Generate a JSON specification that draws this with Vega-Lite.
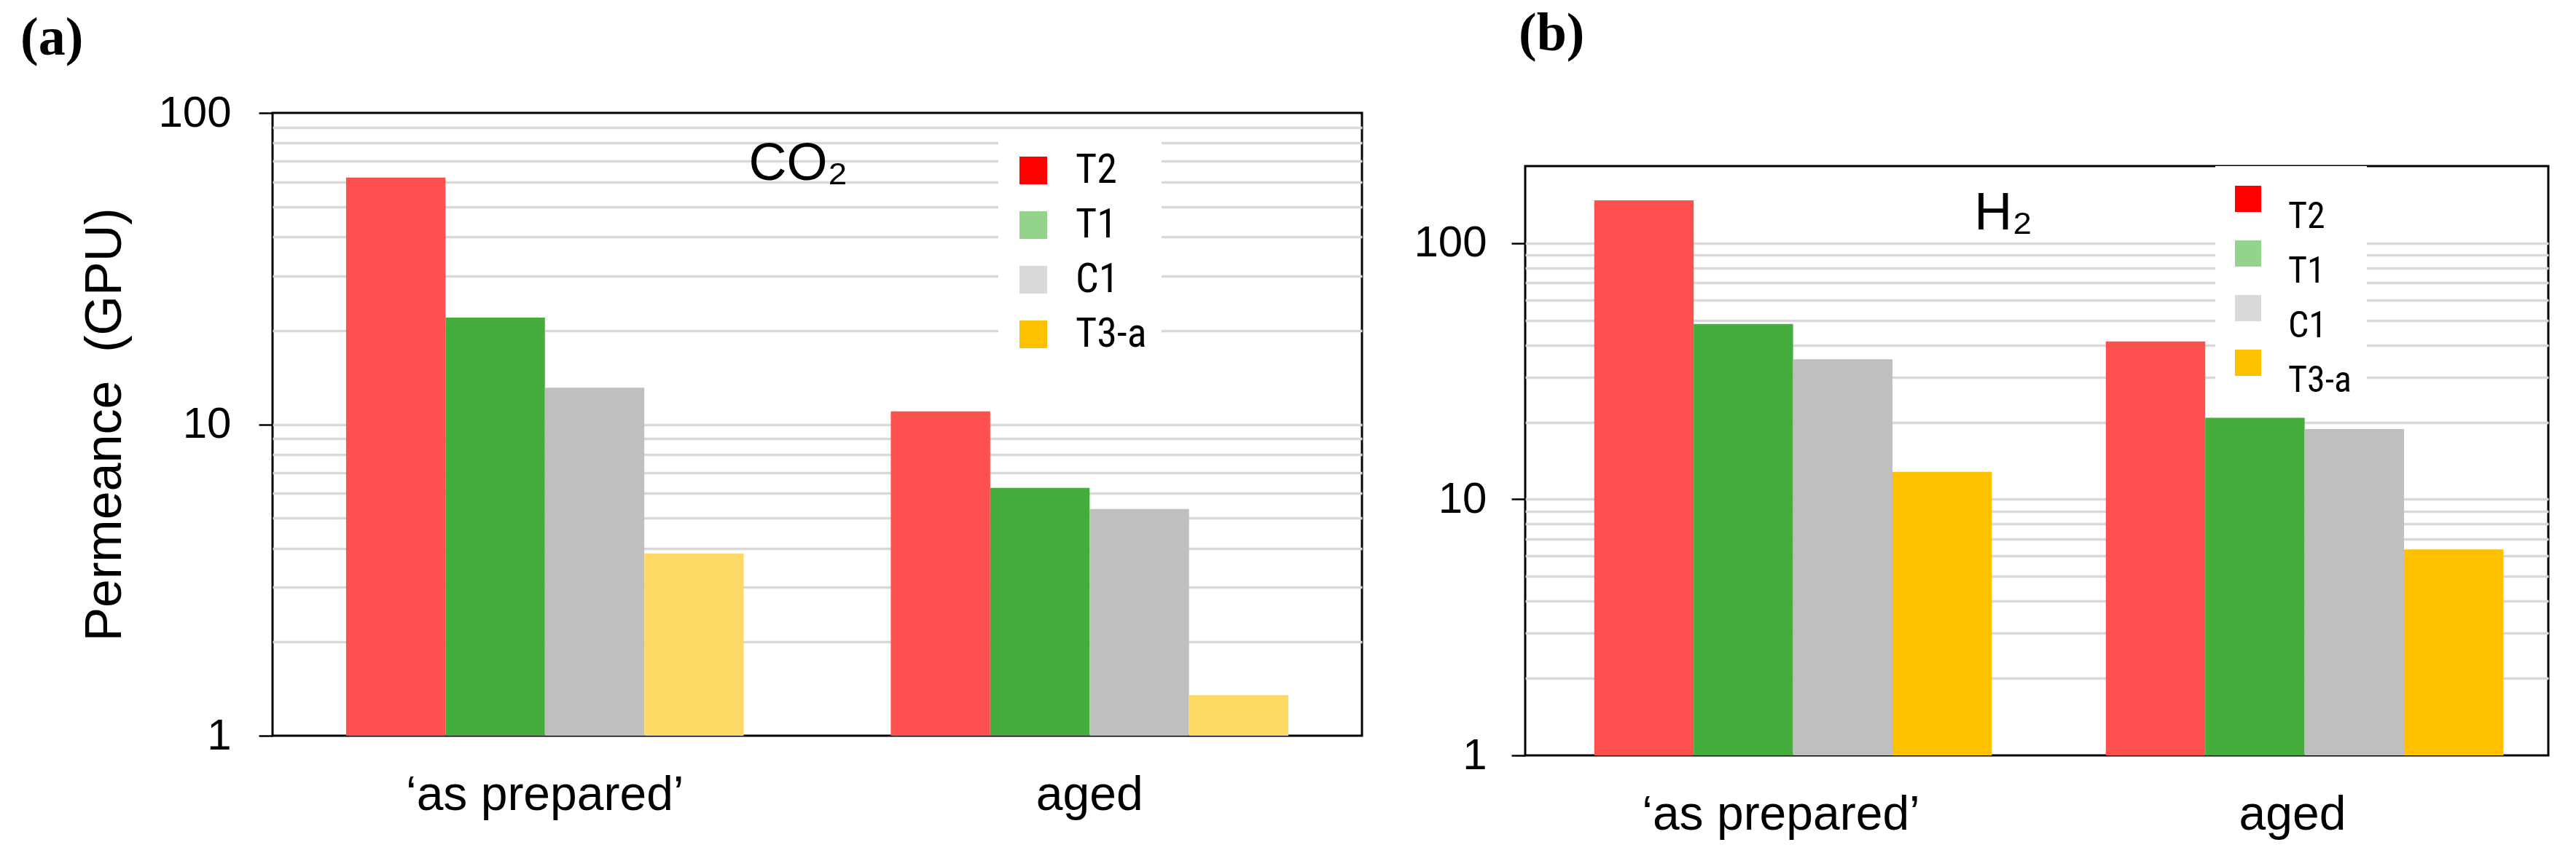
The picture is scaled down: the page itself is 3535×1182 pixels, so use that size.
{
  "$schema": "https://vega.github.io/schema/vega-lite/v6.json",
  "background": "white",
  "padding": {"left": 26, "top": 10, "right": 5, "bottom": 5},
  "spacing": 67,
  "datasets": {
    "co2": [
      {"condition": "‘as prepared’", "sample": "T2", "value": 62},
      {"condition": "‘as prepared’", "sample": "T1", "value": 22},
      {"condition": "‘as prepared’", "sample": "C1", "value": 13.1},
      {"condition": "‘as prepared’", "sample": "T3-a", "value": 3.85},
      {"condition": "aged", "sample": "T2", "value": 11},
      {"condition": "aged", "sample": "T1", "value": 6.25},
      {"condition": "aged", "sample": "C1", "value": 5.35},
      {"condition": "aged", "sample": "T3-a", "value": 1.35}
    ],
    "h2": [
      {"condition": "‘as prepared’", "sample": "T2", "value": 147},
      {"condition": "‘as prepared’", "sample": "T1", "value": 48.4},
      {"condition": "‘as prepared’", "sample": "C1", "value": 35.2},
      {"condition": "‘as prepared’", "sample": "T3-a", "value": 12.8},
      {"condition": "aged", "sample": "T2", "value": 41.3},
      {"condition": "aged", "sample": "T1", "value": 20.8},
      {"condition": "aged", "sample": "C1", "value": 18.8},
      {"condition": "aged", "sample": "T3-a", "value": 6.37}
    ]
  },
  "config": {
    "view": {"stroke": "black", "strokeWidth": 3},
    "font": "Liberation Sans",
    "axis": {
      "labelFont": "Liberation Sans",
      "titleFont": "Liberation Sans",
      "labelColor": "black",
      "titleColor": "black",
      "titleFontWeight": "normal"
    },
    "title": {
      "font": "Liberation Serif",
      "fontWeight": "bold",
      "fontSize": 74,
      "color": "black",
      "anchor": "start",
      "frame": "group"
    }
  },
  "resolve": {
    "scale": {"x": "independent", "y": "independent", "fill": "independent", "color": "independent"},
    "legend": {"color": "independent"}
  },
  "hconcat": [
    {
      "width": 1495,
      "height": 855,
      "title": {"text": "(a)", "dx": -346, "offset": 34},
      "layer": [
        {
          "data": {"name": "co2"},
          "mark": {"type": "bar"},
          "encoding": {
            "x": {
              "field": "condition", "type": "nominal", "sort": ["‘as prepared’", "aged"],
              "scale": {"paddingInner": 0.27, "paddingOuter": 0.135},
              "axis": {"title": null, "labelAngle": 0, "ticks": false, "domain": false, "labelFontSize": 66, "labelPadding": 49, "labelLimit": 0}
            },
            "xOffset": {"field": "sample", "type": "nominal", "sort": ["T2", "T1", "C1", "T3-a"], "scale": {"paddingInner": 0, "paddingOuter": 0}},
            "y": {
              "field": "value", "type": "quantitative",
              "scale": {"type": "log", "domain": [1, 100], "nice": false},
              "axis": {
                "title": "Permeance\u00a0 (GPU)", "titleFontSize": 70, "titlePadding": 36,
                "values": [1, 2, 3, 4, 5, 6, 7, 8, 9, 10, 20, 30, 40, 50, 60, 70, 80, 90, 100],
                "labelExpr": "datum.value == 1 || datum.value == 10 || datum.value == 100 ? format(datum.value, 'd') : ''",
                "labelFontSize": 60, "labelPadding": 38, "labelOverlap": false, "labelFlush": false,
                "domain": false,
                "tickSize": 19, "tickWidth": 2.5,
                "tickColor": {"condition": {"test": "datum.value == 1 || datum.value == 10 || datum.value == 100", "value": "black"}, "value": "transparent"},
                "grid": true, "gridWidth": 3.5,
                "gridColor": {"condition": {"test": "datum.value == 1 || datum.value == 100", "value": "transparent"}, "value": "#D9D9D9"}
              }
            },
            "y2": {"datum": 1},
            "fill": {
              "field": "sample", "type": "nominal", "sort": ["T2", "T1", "C1", "T3-a"],
              "scale": {"range": ["#FF5050", "#45AD3B", "#BFBFBF", "#FFD966"]},
              "legend": null
            }
          }
        },
        {
          "data": {"name": "co2"},
          "mark": {"type": "square", "filled": true, "opacity": 0},
          "encoding": {
            "x": {"field": "condition", "type": "nominal", "sort": ["‘as prepared’", "aged"]},
            "xOffset": {"field": "sample", "type": "nominal", "sort": ["T2", "T1", "C1", "T3-a"]},
            "y": {"field": "value", "type": "quantitative"},
            "color": {
              "field": "sample", "type": "nominal",
              "scale": {"domain": ["T2", "T1", "C1", "T3-a"], "range": ["#FF0000", "#94D38C", "#D9D9D9", "#FFC000"]},
              "legend": {
                "orient": "none", "legendX": 996, "legendY": 31, "title": null,
                "symbolType": "square", "symbolSize": 1444, "symbolStrokeWidth": 0, "symbolOpacity": 1,
                "labelFont": "Liberation Sans Narrow, Roboto Condensed, Liberation Sans",
                "labelColor": "black", "fillColor": "white", "padding": 20,
                "labelFontSize": 56, "labelOffset": 30, "rowPadding": 19, "labelLimit": 400,
                "labelExpr": "datum.label + '\u2003\u2003\u2002'"
              }
            }
          }
        },
        {
          "data": {"values": [{"label": "CO₂"}]},
          "mark": {"type": "text", "align": "left", "baseline": "alphabetic", "fontSize": 72, "font": "Liberation Sans", "color": "black", "dx": 7},
          "encoding": {
            "x": {"datum": "‘as prepared’", "bandPosition": 1},
            "y": {"datum": 61},
            "text": {"field": "label"}
          }
        }
      ]
    },
    {
      "title": {"text": "(b)", "dx": -9, "offset": 70},
      "spacing": 0,
      "vconcat": [
        {
          "width": 1404,
          "height": 71,
          "view": {"stroke": null},
          "data": {"values": []},
          "mark": {"type": "text"},
          "encoding": {}
        },
        {
          "width": 1404,
          "height": 809,
          "layer": [
            {
              "data": {"name": "h2"},
              "mark": {"type": "bar"},
              "encoding": {
                "x": {
                  "field": "condition", "type": "nominal", "sort": ["‘as prepared’", "aged"],
                  "scale": {"paddingInner": 0.27, "paddingOuter": 0.135},
                  "axis": {"title": null, "labelAngle": 0, "ticks": false, "domain": false, "labelFontSize": 66, "labelPadding": 49, "labelLimit": 0}
                },
                "xOffset": {"field": "sample", "type": "nominal", "sort": ["T2", "T1", "C1", "T3-a"], "scale": {"paddingInner": 0, "paddingOuter": 0}},
                "y": {
                  "field": "value", "type": "quantitative",
                  "scale": {"type": "log", "domain": [1, 200], "nice": false},
                  "axis": {
                    "title": null,
                    "values": [1, 2, 3, 4, 5, 6, 7, 8, 9, 10, 20, 30, 40, 50, 60, 70, 80, 90, 100],
                    "labelExpr": "datum.value == 1 || datum.value == 10 || datum.value == 100 ? format(datum.value, 'd') : ''",
                    "labelFontSize": 60, "labelPadding": 34, "labelOverlap": false, "labelFlush": false,
                    "domain": false,
                    "tickSize": 19, "tickWidth": 2.5,
                    "tickColor": {"condition": {"test": "datum.value == 1 || datum.value == 10 || datum.value == 100", "value": "black"}, "value": "transparent"},
                    "grid": true, "gridWidth": 3.5,
                    "gridColor": {"condition": {"test": "datum.value == 1", "value": "transparent"}, "value": "#D9D9D9"}
                  }
                },
                "y2": {"datum": 1},
                "fill": {
                  "field": "sample", "type": "nominal", "sort": ["T2", "T1", "C1", "T3-a"],
                  "scale": {"range": ["#FF5050", "#45AD3B", "#BFBFBF", "#FFC000"]},
                  "legend": null
                }
              }
            },
            {
              "data": {"name": "h2"},
              "mark": {"type": "square", "filled": true, "opacity": 0},
              "encoding": {
                "x": {"field": "condition", "type": "nominal", "sort": ["‘as prepared’", "aged"]},
                "xOffset": {"field": "sample", "type": "nominal", "sort": ["T2", "T1", "C1", "T3-a"]},
                "y": {"field": "value", "type": "quantitative"},
                "color": {
                  "field": "sample", "type": "nominal",
                  "scale": {"domain": ["T2", "T1", "C1", "T3-a"], "range": ["#FF0000", "#94D38C", "#D9D9D9", "#FFC000"]},
                  "legend": {
                    "orient": "none", "legendX": 947, "legendY": 73, "title": null,
                    "symbolType": "square", "symbolSize": 1296, "symbolStrokeWidth": 0, "symbolOpacity": 1,
                    "labelFont": "Liberation Sans Narrow, Roboto Condensed, Liberation Sans",
                    "labelColor": "black", "fillColor": "white", "padding": 20,
                    "labelFontSize": 50, "labelOffset": 30, "rowPadding": -7, "labelBaseline": "top", "labelLimit": 400,
                    "labelExpr": "datum.label + '\u2003\u2003\u2002'"
                  }
                }
              }
            },
            {
              "data": {"values": [{"label": "H₂"}]},
              "mark": {"type": "text", "align": "left", "baseline": "alphabetic", "fontSize": 72, "font": "Liberation Sans", "color": "black", "dx": 9},
              "encoding": {
                "x": {"datum": "‘as prepared’", "bandPosition": 1},
                "y": {"datum": 113},
                "text": {"field": "label"}
              }
            }
          ]
        }
      ]
    }
  ]
}
